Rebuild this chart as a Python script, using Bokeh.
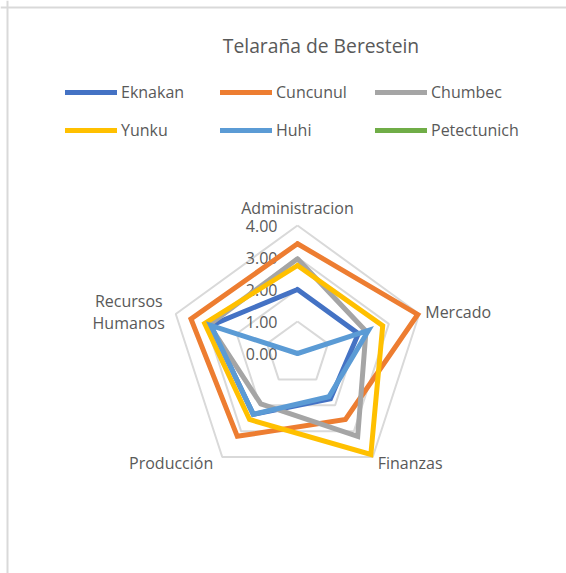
import numpy as np
from bokeh.plotting import figure
from bokeh.models import Range1d, Legend, LegendItem, Label, Span
from bokeh.core.properties import value
from bokeh.embed import file_html
from bokeh.resources import INLINE

# ---------------- data ----------------
title_text = "Telaraña de Berestein"
categories = ["Administracion", "Mercado", "Finanzas", "Producción", "Recursos\nHumanos"]
ticks = [0.0, 1.0, 2.0, 3.0, 4.0]
tick_labels = ["0.00", "1.00", "2.00", "3.00", "4.00"]

series_names = ["Eknakan", "Cuncunul", "Chumbec", "Yunku", "Huhi", "Petectunich"]
eknakan = [2.0, 2.0, 1.75, 2.35, 2.85]
cuncunul = [3.43, 3.95, 2.55, 3.2, 3.5]
chumbec = [2.96, 2.25, 3.2, 1.95, 2.9]
yunku = [2.75, 2.8, 3.9, 2.55, 3.05]
huhi = [0.0, 2.33, 1.67, 2.35, 2.85]
petectunich = [None, None, None, None, None]
series_values = [eknakan, cuncunul, chumbec, yunku, huhi, petectunich]
colors = ["#4472C4", "#ED7D31", "#A5A5A5", "#FFC000", "#5B9BD5", "#70AD47"]

# ---------------- geometry ----------------
W, H = 566, 573
CX, CY = 297, 353      # centre in canvas px (from top-left)
PX = 32.0              # px per unit
FONT = "Open Sans"
TXT = "#595959"

n = len(categories)
angles = np.pi / 2 - 2 * np.pi * np.arange(n) / n

p = figure(width=W, height=H, output_backend="svg", toolbar_location=None,
           x_range=Range1d(-CX / PX, (W - CX) / PX),
           y_range=Range1d(-(H - CY) / PX, CY / PX),
           min_border=0, outline_line_color=None, border_fill_color="white")
p.xaxis.visible = False
p.yaxis.visible = False
p.grid.visible = False

# chart-area border (left/top)
p.add_layout(Span(location=(7 - CX) / PX, dimension="height", line_color="#d9d9d9", line_width=2))
p.add_layout(Span(location=(CY - 7) / PX, dimension="width", line_color="#d9d9d9", line_width=2))

# grid rings
for t in ticks[1:]:
    xs = list(t * np.cos(angles)) + [t * np.cos(angles[0])]
    ys = list(t * np.sin(angles)) + [t * np.sin(angles[0])]
    p.line(xs, ys, line_color="#d9d9d9", line_width=2)

# tick labels
p.text(x=[0.0] * len(ticks), y=ticks, text=tick_labels, text_font=value(FONT),
       text_font_size="16px", text_color=TXT, text_align="right",
       text_baseline="middle", x_offset=-20)

# category labels
r_lab = max(ticks)
aligns = ["center", "left", "left", "right", "center"]
xoffs = [0, 6, 5, -9, -47]
yoffs = [-18, -2, 6, 6, -2]
for i, c in enumerate(categories):
    p.text(x=[r_lab * np.cos(angles[i])], y=[r_lab * np.sin(angles[i])], text=[c],
           text_font=value(FONT), text_font_size="16px", text_color=TXT,
           text_align=aligns[i], text_baseline="middle",
           x_offset=xoffs[i], y_offset=yoffs[i], text_line_height=1.0)

# series
renderers = []
for name, vals, col in zip(series_names, series_values, colors):
    v = np.array([np.nan if x is None else x for x in vals], dtype=float)
    xs = list(v * np.cos(angles)) + [v[0] * np.cos(angles[0])]
    ys = list(v * np.sin(angles)) + [v[0] * np.sin(angles[0])]
    r = p.line(xs, ys, line_color=col, line_width=5, line_join="miter", line_cap="round")
    renderers.append(r)

# legends (two rows of three)
def make_legend(idx, loc):
    lg = Legend(items=[LegendItem(label=series_names[i], renderers=[renderers[i]]) for i in idx],
                location=loc, orientation="horizontal", glyph_width=52, glyph_height=20,
                label_height=20, label_width=99, label_standoff=4, spacing=0, padding=0,
                margin=0, border_line_alpha=0, background_fill_alpha=0,
                label_text_font=FONT, label_text_font_size="16px", label_text_color=TXT)
    p.add_layout(lg, "center")

make_legend([0, 1, 2], (65, H - 93 - 10))
make_legend([3, 4, 5], (65, H - 131 - 10))

# title
p.add_layout(Label(x=320.5, y=H - 45, x_units="screen", y_units="screen", text=title_text,
                   text_font=FONT, text_font_size="19.3px", text_color=TXT,
                   text_align="center", text_baseline="middle"))

open("out.html", "w").write(file_html(p, INLINE))
